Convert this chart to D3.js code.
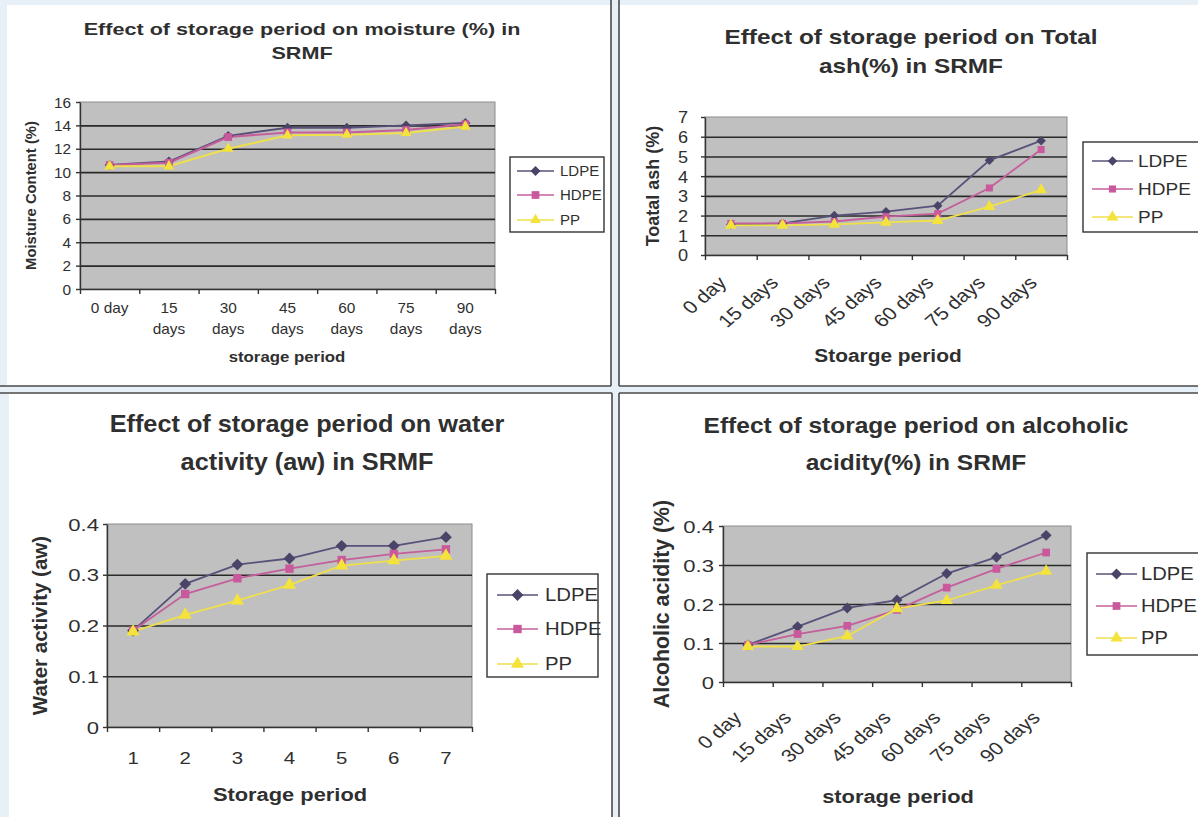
<!DOCTYPE html>
<html>
<head>
<meta charset="utf-8">
<script src="https://cdn.jsdelivr.net/npm/d3@7"></script>
<style>
  body { margin: 0; background: #e8f0f7; }
  svg { display: block; font-family: Arial, "Liberation Sans", sans-serif; }
</style>
</head>
<body>
<svg id="chart" width="1198" height="817"></svg>
<script>
// ---- data ----
var dayLabels = ["0 day", "15 days", "30 days", "45 days", "60 days", "75 days", "90 days"];
var periodNumbers = ["1", "2", "3", "4", "5", "6", "7"];
var seriesNames = ["LDPE", "HDPE", "PP"];

var moistureLDPE = [10.6, 10.9, 13.1, 13.8, 13.8, 14.0, 14.2];
var moistureHDPE = [10.6, 10.8, 13.0, 13.4, 13.4, 13.6, 14.1];
var moisturePP   = [10.5, 10.5, 12.0, 13.15, 13.2, 13.35, 13.9];
var moistureTicks = [0, 2, 4, 6, 8, 10, 12, 14, 16];

var ashLDPE = [1.55, 1.6, 2.0, 2.2, 2.5, 4.8, 5.8];
var ashHDPE = [1.6, 1.6, 1.7, 1.95, 2.1, 3.4, 5.35];
var ashPP   = [1.5, 1.5, 1.55, 1.65, 1.75, 2.45, 3.3];
var ashTicks = [0, 1, 2, 3, 4, 5, 6, 7];

var awLDPE = [0.19, 0.282, 0.32, 0.332, 0.357, 0.357, 0.374];
var awHDPE = [0.19, 0.262, 0.293, 0.312, 0.329, 0.341, 0.35];
var awPP   = [0.188, 0.221, 0.249, 0.28, 0.318, 0.328, 0.337];
var awTicks = [0, 0.1, 0.2, 0.3, 0.4];

var acidLDPE = [0.095, 0.142, 0.19, 0.21, 0.278, 0.32, 0.376];
var acidHDPE = [0.095, 0.123, 0.144, 0.185, 0.242, 0.29, 0.332];
var acidPP   = [0.091, 0.091, 0.118, 0.188, 0.209, 0.248, 0.284];
var acidTicks = [0, 0.1, 0.2, 0.3, 0.4];

// ---- styles ----
var lineColors = { LDPE: "#58527a", HDPE: "#c45f9b", PP: "#efe04a" };
var markColors = { LDPE: "#4b4468", HDPE: "#c9599c", PP: "#f3e33a" };
var textColor = "#2f2f2f";

var diamond = {
  draw: function(ctx, size) {
    var r = Math.sqrt(size / 2);
    ctx.moveTo(0, -r); ctx.lineTo(r, 0); ctx.lineTo(0, r); ctx.lineTo(-r, 0); ctx.closePath();
  }
};
var markTypes = { LDPE: diamond, HDPE: d3.symbolSquare, PP: d3.symbolTriangle };

var svg = d3.select("#chart");

// the scan is stretched sideways, so text gets an optional x-scale
function addText(g, str, x, y, o) {
  var tr = "translate(" + x + "," + y + ")";
  if (o.sx) tr += " scale(" + o.sx + ",1)";
  if (o.rotate) tr += " rotate(" + o.rotate + ")";
  var t = g.append("text")
    .attr("transform", tr)
    .attr("text-anchor", o.anchor || "middle")
    .attr("font-size", o.size)
    .attr("font-weight", o.weight || "normal")
    .attr("fill", o.fill || textColor)
    .text(str);
  if (o.dy) t.attr("dy", o.dy);
  return t;
}

// ---- page / panel frames ----
svg.append("rect").attr("width", 1198).attr("height", 817).attr("fill", "#e8f0f7");
var frames = [
  { x: 7, y: 5, w: 604, h: 381 },
  { x: 619, y: 5, w: 579, h: 381 },
  { x: 9, y: 393, w: 603, h: 424 },
  { x: 619, y: 393, w: 579, h: 424 }
];
frames.forEach(function(f) {
  svg.append("rect").attr("x", f.x).attr("y", f.y).attr("width", f.w).attr("height", f.h).attr("fill", "#fff");
});
var borders = [
  [611, 0, 611, 386], [0, 386, 611, 386],
  [619, 0, 619, 386], [619, 386, 1198, 386],
  [0, 393, 612, 393], [612, 393, 612, 817],
  [619, 393, 1198, 393], [619, 393, 619, 817]
];
borders.forEach(function(b) {
  svg.append("line").attr("x1", b[0]).attr("y1", b[1]).attr("x2", b[2]).attr("y2", b[3])
    .attr("stroke", "#4a4a4a").attr("stroke-width", 1.6);
});

// ---- panels ----
var panels = [
  {
    title: ["Effect of storage period on moisture (%) in", "SRMF"],
    titleX: 302, titleY: [35, 59], titleSize: 16, titleSx: 1.35,
    plot: { x0: 80, x1: 495, y0: 102, y1: 289 },
    categories: dayLabels, wrapLabels: true, rotateLabels: false,
    values: [moistureLDPE, moistureHDPE, moisturePP], ticks: moistureTicks,
    tickSize: 14, tickSx: 1.1, tickGap: 9,
    catSize: 14, catSx: 1.1, catY: 313, catLine: 21,
    yLabel: "Moisture Content (%)", yLabelX: 31, yLabelSize: 14.8,
    xLabel: "storage period", xLabelX: 287, xLabelY: 362, xLabelSize: 14, xLabelSx: 1.2,
    legend: { x: 510, y: 157, w: 94, h: 75, rows: [171, 195, 220], lx0: 517, lx1: 554, tx: 560, size: 15, sx: 1 },
    mark: { LDPE: 50, HDPE: 60, PP: 50 }, lineWidth: 2
  },
  {
    title: ["Effect of storage period on Total", "ash(%) in SRMF"],
    titleX: 911, titleY: [44, 73], titleSize: 21, titleSx: 1.16,
    plot: { x0: 705, x1: 1067, y0: 117, y1: 255 },
    categories: dayLabels, wrapLabels: false, rotateLabels: true,
    values: [ashLDPE, ashHDPE, ashPP], ticks: ashTicks,
    tickSize: 16.5, tickSx: 1.1, tickGap: 17,
    catSize: 18, catSx: 1.18, catDx: -3, catDy: 29,
    yLabel: "Toatal ash (%)", yLabelX: 653, yLabelSize: 18,
    xLabel: "Stoarge period", xLabelX: 888, xLabelY: 362, xLabelSize: 18.5, xLabelSx: 1.13,
    legend: { x: 1083, y: 142, w: 130, h: 90, rows: [161, 189, 217], lx0: 1092, lx1: 1133, tx: 1138, size: 17, sx: 1.12 },
    mark: { LDPE: 45, HDPE: 50, PP: 60 }, lineWidth: 1.8
  },
  {
    title: ["Effect of storage period on water", "activity (aw) in SRMF"],
    titleX: 307, titleY: [432, 470], titleSize: 23, titleSx: 1.1,
    plot: { x0: 107, x1: 472, y0: 524, y1: 727 },
    categories: periodNumbers, wrapLabels: false, rotateLabels: false,
    values: [awLDPE, awHDPE, awPP], ticks: awTicks,
    tickSize: 17, tickSx: 1.3, tickGap: 8,
    catSize: 17, catSx: 1.2, catY: 764, catLine: 0,
    yLabel: "Water activity (aw)", yLabelX: 40, yLabelSize: 20.5,
    xLabel: "Storage period", xLabelX: 290, xLabelY: 801, xLabelSize: 19, xLabelSx: 1.15,
    legend: { x: 487, y: 574, w: 111, h: 103, rows: [595, 629, 664], lx0: 497, lx1: 538, tx: 545, size: 18, sx: 1.13 },
    mark: { LDPE: 70, HDPE: 70, PP: 75 }, lineWidth: 1.8
  },
  {
    title: ["Effect of storage period on alcoholic", "acidity(%) in SRMF"],
    titleX: 916, titleY: [433, 470], titleSize: 21.5, titleSx: 1.14,
    plot: { x0: 723, x1: 1071, y0: 526, y1: 682 },
    categories: dayLabels, wrapLabels: false, rotateLabels: true,
    values: [acidLDPE, acidHDPE, acidPP], ticks: acidTicks,
    tickSize: 17, tickSx: 1.3, tickGap: 9,
    catSize: 18, catSx: 1.18, catDx: -5, catDy: 37,
    yLabel: "Alcoholic acidity (%)", yLabelX: 661, yLabelSize: 21.3,
    xLabel: "storage period", xLabelX: 898, xLabelY: 803, xLabelSize: 19, xLabelSx: 1.15,
    legend: { x: 1087, y: 553, w: 130, h: 102, rows: [574, 606, 638], lx0: 1096, lx1: 1137, tx: 1141, size: 18, sx: 1.12 },
    mark: { LDPE: 60, HDPE: 60, PP: 65 }, lineWidth: 1.8
  }
];

function drawPanel(p) {
  var g = svg.append("g");
  var pl = p.plot;
  var w = pl.x1 - pl.x0, h = pl.y1 - pl.y0;
  var x = d3.scaleBand().domain(p.categories).range([pl.x0, pl.x1]);
  var bound = d3.scaleLinear().domain([0, p.categories.length]).range([pl.x0, pl.x1]);
  var y = d3.scaleLinear().domain([p.ticks[0], p.ticks[p.ticks.length - 1]]).range([pl.y1, pl.y0]);
  var cx = function(c) { return x(c) + x.bandwidth() / 2; };

  g.append("rect").attr("x", pl.x0).attr("y", pl.y0).attr("width", w).attr("height", h)
    .attr("fill", "#c0c0c0").attr("stroke", "#8c8c8c").attr("stroke-width", 1);

  // gridlines
  var inner = p.ticks.slice(1, p.ticks.length - 1);
  g.append("g").attr("transform", "translate(" + pl.x0 + ",0)")
    .call(d3.axisLeft(y).tickValues(inner).tickSize(-w).tickFormat(""))
    .call(function(s) { s.select(".domain").remove(); })
    .selectAll("line").attr("stroke", "#2a2a2a").attr("stroke-width", 1.6);

  // y axis
  var ya = g.append("g").attr("transform", "translate(" + pl.x0 + ",0)")
    .call(d3.axisLeft(y).tickValues(p.ticks).tickSize(4).tickSizeOuter(0).tickFormat(function(v) { return String(v); }));
  ya.select(".domain").attr("stroke", "#333").attr("stroke-width", 1.4);
  ya.selectAll("line").attr("stroke", "#333").attr("stroke-width", 1.4);
  ya.selectAll("text").attr("x", null).attr("dy", "0.36em")
    .attr("transform", "translate(" + (-p.tickGap) + ",0) scale(" + p.tickSx + ",1)")
    .attr("font-size", p.tickSize).attr("font-family", null).attr("fill", textColor);

  // x axis (tick marks at category boundaries)
  var xa = g.append("g").attr("transform", "translate(0," + pl.y1 + ")")
    .call(d3.axisBottom(bound).tickValues(d3.range(p.categories.length + 1)).tickSize(5).tickSizeOuter(0).tickFormat(""));
  xa.select(".domain").attr("stroke", "#333").attr("stroke-width", 1.4);
  xa.selectAll("line").attr("stroke", "#333").attr("stroke-width", 1.4);

  // category labels
  p.categories.forEach(function(c) {
    if (p.rotateLabels) {
      addText(g, c, cx(c) + p.catDx, pl.y1 + p.catDy, { size: p.catSize, anchor: "end", rotate: -45, sx: p.catSx });
    } else {
      var lines = (p.wrapLabels && c.indexOf("days") > 0) ? c.split(" ") : [c];
      lines.forEach(function(s, i) {
        addText(g, s, cx(c), p.catY + i * p.catLine, { size: p.catSize, sx: p.catSx });
      });
    }
  });

  // titles
  p.title.forEach(function(s, i) {
    addText(g, s, p.titleX, p.titleY[i], { size: p.titleSize, weight: "bold", sx: p.titleSx });
  });
  addText(g, p.yLabel, p.yLabelX, (pl.y0 + pl.y1) / 2, { size: p.yLabelSize, weight: "bold", rotate: -90, dy: "0.36em" });
  addText(g, p.xLabel, p.xLabelX, p.xLabelY, { size: p.xLabelSize, weight: "bold", sx: p.xLabelSx });

  // series
  var line = d3.line().x(function(d) { return cx(d.c); }).y(function(d) { return y(d.v); });
  seriesNames.forEach(function(name, si) {
    var pts = p.values[si].map(function(v, i) { return { c: p.categories[i], v: v }; });
    g.append("path").datum(pts).attr("d", line).attr("fill", "none")
      .attr("stroke", lineColors[name]).attr("stroke-width", p.lineWidth);
  });
  seriesNames.forEach(function(name, si) {
    var pts = p.values[si].map(function(v, i) { return { c: p.categories[i], v: v }; });
    g.selectAll(null).data(pts).enter().append("path")
      .attr("d", d3.symbol().type(markTypes[name]).size(p.mark[name]))
      .attr("transform", function(d) { return "translate(" + cx(d.c) + "," + y(d.v) + ")"; })
      .attr("fill", markColors[name]);
  });

  // legend
  var L = p.legend;
  g.append("rect").attr("x", L.x).attr("y", L.y).attr("width", L.w).attr("height", L.h)
    .attr("fill", "#fff").attr("stroke", "#333").attr("stroke-width", 1.4);
  seriesNames.forEach(function(name, i) {
    var ry = L.rows[i];
    g.append("line").attr("x1", L.lx0).attr("x2", L.lx1).attr("y1", ry).attr("y2", ry)
      .attr("stroke", lineColors[name]).attr("stroke-width", 1.6);
    g.append("path").attr("d", d3.symbol().type(markTypes[name]).size(p.mark[name]))
      .attr("transform", "translate(" + (L.lx0 + L.lx1) / 2 + "," + ry + ")")
      .attr("fill", markColors[name]);
    addText(g, name, L.tx, ry, { size: L.size, anchor: "start", sx: L.sx, dy: "0.36em" });
  });
}

panels.forEach(drawPanel);
</script>
</body>
</html>
